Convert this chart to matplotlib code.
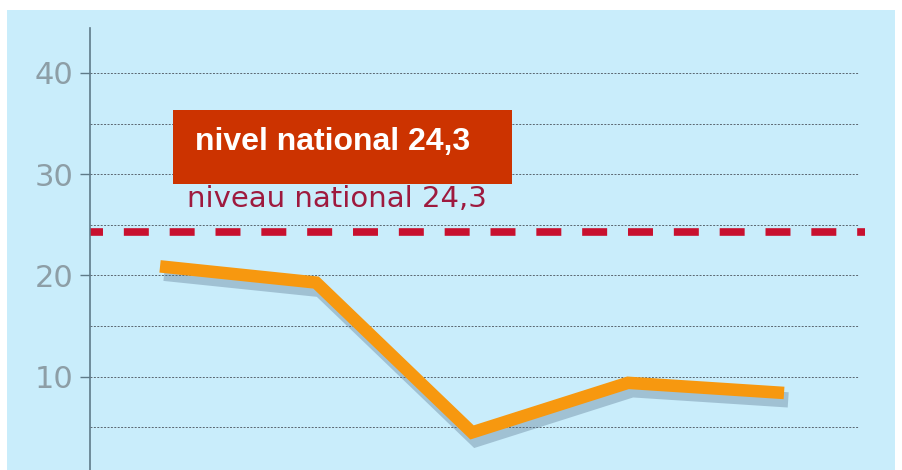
import matplotlib.pyplot as plt
import matplotlib.patheffects as pe
from matplotlib.patches import Rectangle

# données
points = [0, 1, 2, 3, 4]
valeurs = [20.9, 19.3, 4.5, 9.4, 8.4]
niveau_national = 24.3
yticks_major = [10, 20, 30, 40]
yticks_minor = [5, 15, 25, 35]
ytick_labels = ['10', '20', '30', '40']

fig = plt.figure(figsize=(9.03, 4.70), dpi=100)
fig.patch.set_facecolor('white')

# fond bleu clair
fig.patches.append(Rectangle((7 / 903, 0), 888 / 903, 460 / 470,
                             transform=fig.transFigure, facecolor='#c9edfb',
                             edgecolor='none', zorder=-5))

ax = fig.add_axes([90 / 903, 0, 775 / 903, 442 / 470])
ax.set_facecolor('none')
ax.set_xlim(-0.449, 4.519)
ax.set_ylim(0.79, 44.44)

for s in ['top', 'right', 'bottom']:
    ax.spines[s].set_visible(False)
ax.spines['left'].set_color('#5f7a88')
ax.spines['left'].set_linewidth(1.2)

ax.set_xticks([])
ax.set_yticks(yticks_major)
ax.set_yticklabels(ytick_labels)
ax.tick_params(axis='y', length=7, width=1, color='#5f7a88', pad=5,
               labelsize=22, labelcolor='#8d9ea6')

# lignes de grille pointillées
for v in yticks_major + yticks_minor:
    ax.plot([-0.449, 4.48], [v, v], color='#5a6670', linestyle=(0, (2, 1.5)),
            linewidth=0.7, zorder=1)

# niveau national
ax.axhline(niveau_national, xmin=0, xmax=1, color='#c8102e', linewidth=5.5,
           linestyle=(1.57, (3.27, 2.73)), zorder=2)
ax.text(0.17, 27.6, 'niveau national 24,3', color='#9e1a3e', fontsize=21,
        va='center', ha='left', zorder=3)

# courbe orange avec ombre
ax.plot(points, valeurs, color='#f7980f', linewidth=9, solid_capstyle='butt',
        solid_joinstyle='miter', zorder=4,
        path_effects=[pe.SimpleLineShadow(offset=(3, -5), shadow_color='#55708a',
                                          alpha=0.35, linewidth=11),
                      pe.Normal()])

# encadré rouge
fig.patches.append(Rectangle((173 / 903, 1 - 184 / 470), 339 / 903, 74 / 470,
                             transform=fig.transFigure, facecolor='#cc3300',
                             edgecolor='none', zorder=5))
fig.text(195 / 903, 1 - 142 / 470, 'nivel national 24,3', color='white',
         fontsize=23, fontweight='bold', family='Liberation Sans',
         va='center', ha='left', zorder=6)

fig.savefig('out.png', dpi=100)
